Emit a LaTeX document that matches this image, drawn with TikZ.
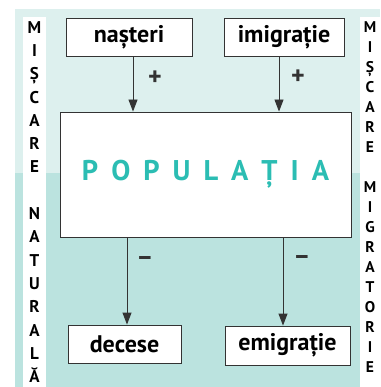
\documentclass[tikz,border=0pt]{standalone}
\usepackage{fontspec}
\setmainfont{PT Sans}
\usetikzlibrary{arrows.meta}
\definecolor{bglight}{HTML}{DDF0EE}
\definecolor{bgdark}{HTML}{BBE3DF}
\definecolor{teal}{HTML}{2BBDB3}
\definecolor{edge}{HTML}{333333}
\tikzset{
  box/.style={draw=edge, line width=0.9pt, fill=white, inner sep=0pt, font=\fontsize{24}{26}\selectfont\bfseries},
  conn/.style={draw=edge, line width=0.9pt, -{Triangle[length=12pt,width=9pt]}},
  sign/.style={font=\fontsize{26}{28}\selectfont\bfseries, text=edge},
  strip/.style={align=center, inner sep=0pt, anchor=north, text=black}
}
\newcommand{\gapL}{\hspace{13pt}}
\begin{document}
\begin{tikzpicture}[x=1pt,y=-1pt]
\useasboundingbox (0,0) rectangle (380,387);
% background
\fill[bglight] (15,9) rectangle (380,173);
\fill[bgdark] (15,173) rectangle (380,387);
\fill[white] (23,17) rectangle (46,387);
\fill[white] (360,17) rectangle (380,387);
% side texts
\node[strip, font=\fontsize{17}{23.3}\selectfont\bfseries] (left) at (34.5,21)
  {M\\I\\Ș\\C\\A\\R\\E\\[23.3pt]N\\A\\T\\U\\R\\A\\L\\Ă};
\node[strip, font=\fontsize{15.5}{20}\selectfont\bfseries] (right) at (370,21.5)
  {M\\I\\Ș\\C\\A\\R\\E\\[20pt]M\\I\\G\\R\\A\\T\\O\\R\\I\\E};
% boxes
\node[box, minimum width=126pt, minimum height=38pt] (nas) at (129,37) {nașteri};
\node[box, minimum width=120pt, minimum height=38pt] (imi) at (284,37) {imigrație};
\node[box, minimum width=291pt, minimum height=125pt, text=teal, font=\fontsize{28.5}{30}\selectfont\bfseries] (pop) at (205.5,174.5)
  {P\gapL O\gapL P\gapL U\gapL L\gapL A\gapL Ț\gapL I\gapL A};
\node[box, minimum width=113pt, minimum height=38pt] (dec) at (124.5,344) {decese};
\node[box, minimum width=125pt, minimum height=39pt] (emi) at (287.5,345.5) {emigrație};
% connectors
\draw[conn] (nas.south -| 133,0) -- (pop.north -| 133,0);
\draw[conn] (imi.south -| 279,0) -- (pop.north -| 279,0);
\draw[conn] (pop.south -| 127,0) -- (dec.north -| 127,0);
\draw[conn] (pop.south -| 283,0) -- (emi.north -| 283,0);
% signs
\node[sign] (p1) at (155,78) {+};
\node[sign] (p2) at (298,77) {+};
\node[sign] (m1) at (145,261) {–};
\node[sign] (m2) at (302,260) {–};
\end{tikzpicture}
\end{document}
